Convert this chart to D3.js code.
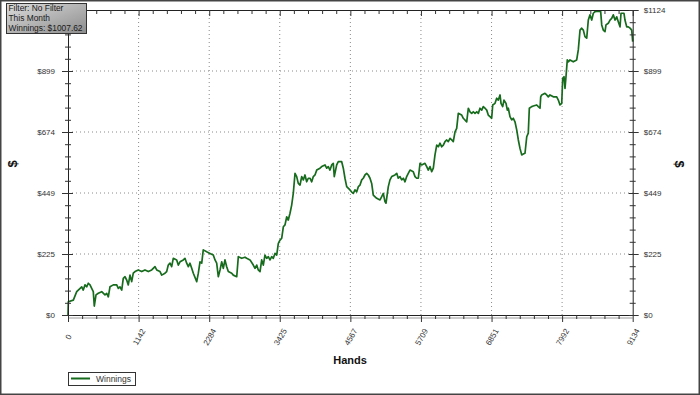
<!DOCTYPE html>
<html>
<head>
<meta charset="utf-8">
<script src="https://cdn.jsdelivr.net/npm/d3@7"></script>
<style>
  body { margin: 0; background: #fff; }
  svg { display: block; }
  text { font-family: "Liberation Sans", Arial, sans-serif; }
</style>
</head>
<body>
<div id="chart"></div>
<script>
// hands played (x) and cumulative winnings in $ (y)
const hands = [0,5,86,141,222,247,275,302,328,356,383,409,425,453,490,545,598,626,652,679,
  733,788,814,841,869,894,922,949,975,1003,1030,1056,1084,1137,1192,1245,1299,1354,1407,1435,
  1488,1516,1569,1596,1622,1650,1677,1703,1758,1784,1812,1865,1892,1920,1946,1973,2001,2027,2082,2108,
  2135,2163,2188,2243,2297,2350,2378,2405,2431,2459,2486,2512,2539,2567,2593,2648,2674,2729,2755,2810,
  2863,2890,2944,2997,3025,3052,3078,3106,3133,3159,3186,3214,3240,3267,3295,3321,3348,3376,3402,3429,
  3457,3483,3510,3538,3563,3591,3618,3644,3672,3699,3725,3753,3780,3806,3833,3861,3887,3914,3942,3968,
  3995,4023,4076,4104,4157,4184,4210,4238,4265,4291,4307,4346,4372,4427,4453,4480,4508,4561,4589,4615,
  4642,4670,4696,4723,4751,4776,4804,4831,4857,4885,4912,4938,4993,5047,5074,5100,5127,5144,5181,5208,
  5236,5289,5317,5342,5370,5398,5424,5451,5478,5504,5532,5585,5613,5640,5666,5694,5721,5774,5802,5828,
  5855,5883,5909,5936,5964,5990,6017,6045,6071,6098,6126,6151,6179,6206,6232,6260,6287,6313,6368,6394,
  6449,6475,6502,6530,6556,6583,6611,6637,6664,6692,6717,6745,6773,6798,6826,6853,6870,6907,6934,6960,
  6988,7004,7031,7052,7085,7106,7122,7149,7177,7203,7230,7258,7284,7311,7339,7364,7392,7420,7445,7462,
  7500,7526,7581,7607,7635,7646,7662,7715,7743,7769,7796,7850,7905,7931,7958,7986,8002,8023,8039,8055,
  8076,8093,8120,8173,8228,8254,8282,8309,8335,8362,8390,8416,8443,8471,8497,8524,8577,8616,8633,8658,
  8686,8702,8739,8767,8794,8820,8848,8875,8901,8929,8945,8972,8993,9009,9037,9063,9091,9118,9134];
const winnings = [0,49,55,86,104,92,111,104,117,111,98,86,33,74,80,86,74,80,67,104,
  111,111,98,104,92,135,141,129,111,147,123,154,160,166,160,166,160,166,178,166,
  160,147,154,160,184,191,178,209,203,184,196,203,209,191,178,191,172,154,123,154,
  196,191,240,233,227,221,203,191,141,166,196,172,203,178,160,154,147,141,215,209,
  213,209,203,184,172,184,166,160,203,184,221,209,215,203,215,209,227,221,264,276,
  283,325,332,362,350,375,405,448,522,510,485,479,510,498,516,491,504,504,491,510,
  516,534,541,547,553,541,547,534,553,559,510,553,565,565,541,504,473,461,453,448,
  461,454,473,479,498,504,516,522,516,504,485,442,430,424,436,448,418,412,473,498,
  510,516,522,504,510,498,504,491,510,522,534,528,510,504,504,559,553,559,547,534,
  547,528,541,590,626,620,633,620,626,639,645,639,651,645,639,675,688,743,737,725,
  712,762,749,743,749,743,749,743,762,755,768,762,755,737,731,725,774,780,799,792,
  811,780,768,792,780,755,762,731,719,725,712,682,645,614,590,593,596,657,670,762,
  768,770,774,768,762,804,811,817,811,804,811,804,804,792,774,780,872,878,835,878,
  940,933,940,933,940,977,1050,1057,1050,1026,1020,1087,1106,1087,1112,1118,1120,1118,1069,1050,
  1044,1069,1075,1087,1093,1106,1087,1099,1081,1062,1112,1112,1112,1087,1062,1062,1057,1050,1007.62];

const xTicks = [0, 1142, 2284, 3425, 4567, 5709, 6851, 7992, 9134];
const yTicks = [0, 224.8, 449.6, 674.4, 899.2, 1124];
const yTickLabels = ["$0", "$225", "$449", "$674", "$899", "$1124"];
const infoLines = ["Filter: No Filter", "This Month", "Winnings: $1007.62"];
const seriesName = "Winnings";

const W = 700, H = 395;
const lineColor = "#176b1d";

const svg = d3.select("#chart").append("svg")
    .attr("width", W)
    .attr("height", H);

const x = d3.scaleLinear().domain([0, 9134]).range([68, 632.7]);
const y = d3.scaleLinear().domain([0, 1124]).range([315, 10]);

// 4 minor ticks between each pair of major ones
function minorOf(ticks) {
  const m = [];
  for (let i = 0; i < ticks.length - 1; i++)
    for (let k = 1; k < 5; k++) m.push(ticks[i] + (ticks[i + 1] - ticks[i]) * k / 5);
  return m;
}

// dotted grid
svg.append("g").selectAll("line")
  .data(xTicks.slice(1, -1))
  .join("line")
    .attr("x1", d => x(d)).attr("x2", d => x(d))
    .attr("y1", y(1124)).attr("y2", y(0))
    .attr("stroke", "#8a8a8a")
    .attr("stroke-dasharray", "1,3");
svg.append("g").selectAll("line")
  .data(yTicks.slice(1, -1))
  .join("line")
    .attr("x1", x(0)).attr("x2", x(9134))
    .attr("y1", d => y(d)).attr("y2", d => y(d))
    .attr("stroke", "#8a8a8a")
    .attr("stroke-dasharray", "1,3");

// winnings line
svg.append("path")
  .datum(hands.map((h, i) => [h, winnings[i]]))
  .attr("fill", "none")
  .attr("stroke", lineColor)
  .attr("stroke-width", 1.7)
  .attr("stroke-linejoin", "round")
  .attr("d", d3.line().x(d => x(d[0])).y(d => y(d[1])));

function styleAxis(g) {
  g.select(".domain").attr("stroke", "#222");
  g.selectAll(".tick line").attr("stroke", "#333");
  g.selectAll(".tick text").attr("fill", "#333").style("font-size", "8px")
    .style("font-family", '"Liberation Sans", Arial, sans-serif');
}

// bottom axis
svg.append("line")
  .attr("x1", x(0)).attr("x2", x(9134))
  .attr("y1", 318).attr("y2", 318)
  .attr("stroke", "#999");
const gb = svg.append("g").attr("transform", "translate(0,315)")
  .call(d3.axisBottom(x).tickValues(xTicks).tickSize(7).tickSizeOuter(0).tickFormat(d3.format("d")))
  .call(styleAxis);
gb.selectAll(".tick text")
  .attr("y", 0).attr("dy", "0.35em")
  .attr("text-anchor", "middle")
  .attr("transform", "translate(0,22) rotate(-60)");
svg.append("g").attr("transform", "translate(0,315)")
  .call(d3.axisBottom(x).tickValues(minorOf(xTicks)).tickSize(4).tickFormat(""))
  .call(styleAxis)
  .select(".domain").remove();

// top axis (ticks pointing into the plot)
svg.append("g").attr("transform", "translate(0,10)")
  .call(d3.axisTop(x).tickValues(xTicks).tickSize(-6).tickSizeOuter(0).tickFormat(""))
  .call(styleAxis);
svg.append("g").attr("transform", "translate(0,10)")
  .call(d3.axisTop(x).tickValues(minorOf(xTicks)).tickSize(-4).tickFormat(""))
  .call(styleAxis)
  .select(".domain").remove();

// left axis - top label sits under the info box, so it is left out
svg.append("g").attr("transform", "translate(68,0)")
  .call(d3.axisLeft(y).tickValues(yTicks).tickSize(6).tickPadding(7).tickSizeOuter(0)
    .tickFormat((d, i) => i === yTicks.length - 1 ? "" : yTickLabels[i]))
  .call(styleAxis)
  .selectAll(".tick line").attr("x1", 5);
svg.append("g").attr("transform", "translate(68,0)")
  .call(d3.axisLeft(y).tickValues(minorOf(yTicks)).tickSize(3).tickFormat(""))
  .call(g => g.select(".domain").remove())
  .call(styleAxis)
  .selectAll(".tick line").attr("x1", 3);

// right axis
svg.append("g").attr("transform", "translate(632.7,0)")
  .call(d3.axisRight(y).tickValues(yTicks).tickSize(6).tickPadding(5).tickSizeOuter(0)
    .tickFormat((d, i) => yTickLabels[i]))
  .call(styleAxis)
  .selectAll(".tick line").attr("x1", -4);
svg.append("g").attr("transform", "translate(632.7,0)")
  .call(d3.axisRight(y).tickValues(minorOf(yTicks)).tickSize(3).tickFormat(""))
  .call(g => g.select(".domain").remove())
  .call(styleAxis)
  .selectAll(".tick line").attr("x1", -3);

// axis titles
svg.append("text")
  .attr("x", 350).attr("y", 364)
  .attr("text-anchor", "middle")
  .style("font-size", "11px").style("font-weight", "bold")
  .attr("fill", "#111")
  .text("Hands");
svg.append("text")
  .attr("transform", "translate(12,164) rotate(-90)")
  .attr("text-anchor", "middle").attr("dy", "0.35em")
  .style("font-size", "13px").style("font-weight", "bold")
  .attr("fill", "#111")
  .text("$");
svg.append("text")
  .attr("transform", "translate(680,164) rotate(90)")
  .attr("text-anchor", "middle").attr("dy", "0.35em")
  .style("font-size", "13px").style("font-weight", "bold")
  .attr("fill", "#111")
  .text("$");

// legend
const lg = svg.append("g").attr("transform", "translate(68,372)");
lg.append("rect")
  .attr("x", 0.5).attr("y", 0.5).attr("width", 67).attr("height", 13)
  .attr("fill", "#fff").attr("stroke", "#333");
lg.append("line")
  .attr("x1", 3).attr("x2", 22).attr("y1", 6.5).attr("y2", 6.5)
  .attr("stroke", lineColor).attr("stroke-width", 2);
lg.append("text")
  .attr("x", 28).attr("y", 10)
  .style("font-size", "8.5px").attr("fill", "#333")
  .text(seriesName);

// info box, top left
const defs = svg.append("defs");
const grad = defs.append("linearGradient").attr("id", "boxGrad")
  .attr("x1", "0%").attr("y1", "0%").attr("x2", "100%").attr("y2", "100%");
grad.append("stop").attr("offset", "0%").attr("stop-color", "#dcdcdc");
grad.append("stop").attr("offset", "100%").attr("stop-color", "#8c8c8c");

const ib = svg.append("g").attr("transform", "translate(6,3)");
ib.append("rect")
  .attr("x", 0.5).attr("y", 0.5).attr("width", 80).attr("height", 30)
  .attr("fill", "url(#boxGrad)").attr("stroke", "#333");
ib.selectAll("text")
  .data(infoLines)
  .join("text")
    .attr("x", 2.5)
    .attr("y", (d, i) => 8.3 + i * 9.8)
    .style("font-size", "8.4px")
    .attr("fill", "#1a1a1a")
    .text(d => d);

// outer frame
svg.append("rect")
  .attr("x", 0.75).attr("y", 0.75).attr("width", W - 1.5).attr("height", H - 1.5)
  .attr("fill", "none").attr("stroke", "#444").attr("stroke-width", 1.5);
</script>
</body>
</html>
